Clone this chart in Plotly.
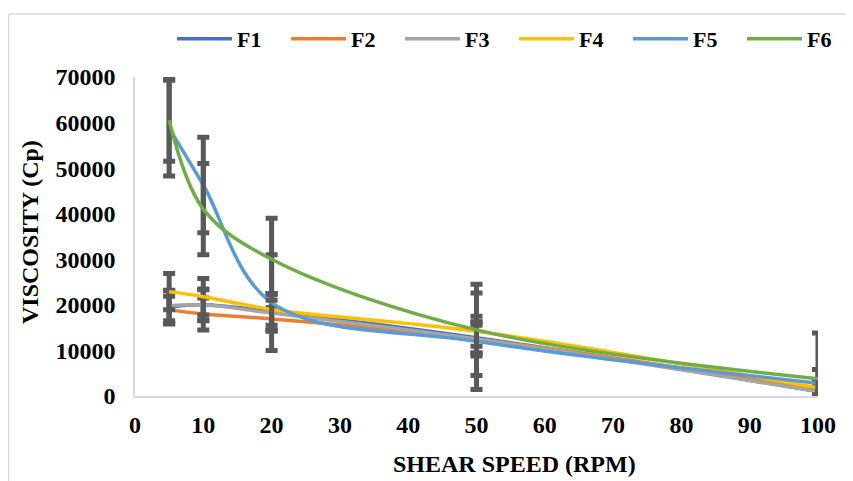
import plotly.graph_objects as go

shear_speed = [5, 10, 20, 50, 100]
series_names = ["F1", "F2", "F3", "F4", "F5", "F6"]
F1 = [19500, 20000, 18500, 12800, 1000]
F2 = [18900, 18000, 16900, 12500, 1500]
F3 = [19800, 20000, 18200, 12500, 1000]
F4 = [22900, 21800, 19000, 14200, 1800]
F5 = [58800, 46300, 20500, 12000, 2800]
F6 = [60500, 41000, 30000, 14500, 3800]
F1_err = [3700, 3500, 4000, 3500, 1000]
F2_err = [3000, 3500, 2500, 3000, 1200]
F3_err = [3300, 3300, 4000, 3700, 1000]
F4_err = [4000, 4000, 3500, 3300, 1500]
F5_err = [10500, 10500, 10500, 10600, 3000]
F6_err = [9000, 10000, 9000, 10000, 10000]
colors = ["#4472C4", "#ED7D31", "#A5A5A5", "#FFC000", "#5B9BD5", "#70AD47"]
x_ticks = [0, 10, 20, 30, 40, 50, 60, 70, 80, 90, 100]
y_ticks = [0, 10000, 20000, 30000, 40000, 50000, 60000, 70000]

values = [F1, F2, F3, F4, F5, F6]
errors = [F1_err, F2_err, F3_err, F4_err, F5_err, F6_err]

FONT = "Liberation Serif, Times New Roman, serif"

fig = go.Figure()
for name, v, e, c in zip(series_names, values, errors, colors):
    fig.add_trace(go.Scatter(
        x=shear_speed, y=v, name=name, mode="lines",
        line=dict(color=c, width=3.5, shape="spline", smoothing=1.0),
        error_y=dict(type="data", array=e, visible=True, color="#595959",
                     thickness=5, width=6),
    ))

# page body has an 8px margin: work in screen coords and shift by OFF
OFF = 8
W, H = 853 - OFF, 481 - OFF
# plot area on screen: x 135..818, y 77..396
L, R, T, B = 135 - OFF, 818 - OFF, 77 - OFF, 396 - OFF
pw, ph = R - L, B - T

def px(xs):
    return (xs - OFF - L) / pw

def py(ys):
    return (B - (ys - OFF)) / ph

fig.update_layout(
    width=W, height=H,
    margin=dict(l=L, r=W - R, t=T, b=H - B, autoexpand=False),
    paper_bgcolor="white", plot_bgcolor="white",
    font=dict(family=FONT, size=22, color="black"),
    showlegend=True,
    legend=dict(orientation="h", xref="container", yref="container",
                x=(172 - OFF) / W, y=1 - (39 - OFF) / H, xanchor="left", yanchor="middle",
                font=dict(family=FONT, size=22, color="black", weight="bold"),
                itemwidth=55, entrywidth=44, entrywidthmode="pixels",
                bgcolor="rgba(0,0,0,0)", traceorder="normal"),
    xaxis=dict(range=[0, 100], tickvals=x_ticks, ticktext=[str(t) for t in x_ticks],
               showgrid=False, zeroline=False, showline=True, linecolor="#D9D9D9", linewidth=1.5,
               ticks="", ticklabelstandoff=6,
               tickfont=dict(family=FONT, size=24, color="black", weight="bold")),
    yaxis=dict(range=[0, 70000], tickvals=y_ticks, ticktext=[str(t) for t in y_ticks],
               showgrid=False, zeroline=False, showline=True, linecolor="#D9D9D9", linewidth=1.5,
               ticks="", ticklabelstandoff=13,
               tickfont=dict(family=FONT, size=24, color="black", weight="bold")),
    annotations=[
        dict(text="SHEAR SPEED (RPM)", xref="paper", yref="paper", x=px(514), y=py(464),
             showarrow=False, xanchor="center", yanchor="middle",
             font=dict(family=FONT, size=24, color="black", weight="bold")),
        dict(text="VISCOSITY (Cp)", xref="paper", yref="paper", x=px(30), y=py(232),
             showarrow=False, xanchor="center", yanchor="middle", textangle=-90,
             font=dict(family=FONT, size=24, color="black", weight="bold")),
    ],
    shapes=[
        dict(type="line", xref="paper", yref="paper", x0=px(8.5), x1=px(8.5), y0=py(14), y1=py(500),
             line=dict(color="#D9D9D9", width=1.5)),
        dict(type="line", xref="paper", yref="paper", x0=px(8.5), x1=px(880), y0=py(14), y1=py(14),
             line=dict(color="#D9D9D9", width=1.5)),
    ],
)

fig.write_html("out.html")
